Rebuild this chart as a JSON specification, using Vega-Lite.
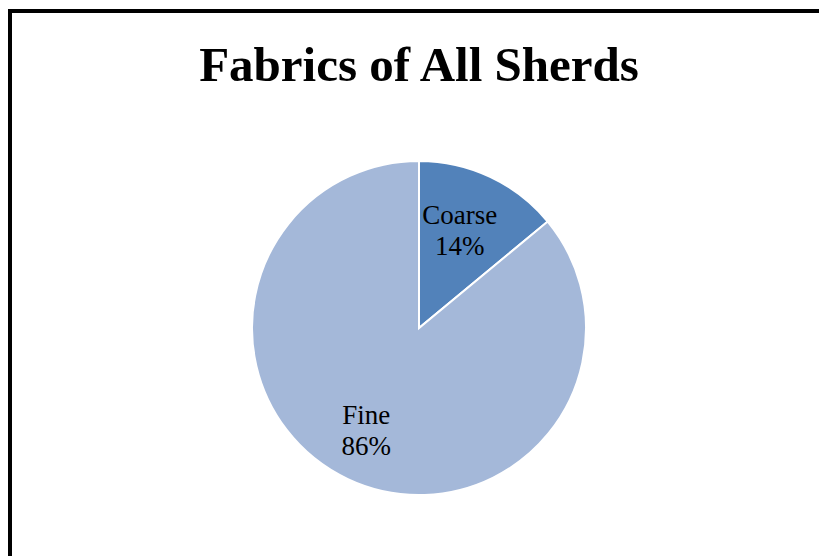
{
  "$schema": "https://vega.github.io/schema/vega-lite/v6.json",
  "width": 818,
  "height": 634,
  "autosize": "none",
  "padding": {"left": 10, "top": 11, "right": 0, "bottom": 0},
  "background": "white",
  "view": {"stroke": "black", "strokeWidth": 4, "fill": "white"},
  "title": {
    "text": "Fabrics of All Sherds",
    "font": "Liberation Serif",
    "fontWeight": "bold",
    "fontSize": 49,
    "color": "black",
    "anchor": "middle",
    "frame": "group",
    "baseline": "alphabetic",
    "offset": -119
  },
  "data": {"values": [
    {"fabric": "Coarse", "percent": 14},
    {"fabric": "Fine", "percent": 86}
  ]},
  "transform": [
    {"calculate": "[datum.fabric, datum.percent + '%']", "as": "label"}
  ],
  "encoding": {
    "theta": {"field": "percent", "type": "quantitative", "stack": true},
    "order": {"field": "fabric", "sort": "ascending"}
  },
  "layer": [
    {
      "mark": {"type": "arc", "outerRadius": 167, "stroke": "white", "strokeWidth": 2},
      "encoding": {
        "color": {
          "field": "fabric",
          "type": "nominal",
          "scale": {"domain": ["Coarse", "Fine"], "range": ["#5282BA", "#A4B8D9"]},
          "legend": null
        }
      }
    },
    {
      "mark": {"type": "text", "radius": 110, "dy": -12, "dx": -6, "font": "Liberation Serif", "fontSize": 27, "lineHeight": 31, "color": "black", "baseline": "middle", "align": "center"},
      "encoding": {
        "text": {"field": "label"}
      }
    }
  ]
}
